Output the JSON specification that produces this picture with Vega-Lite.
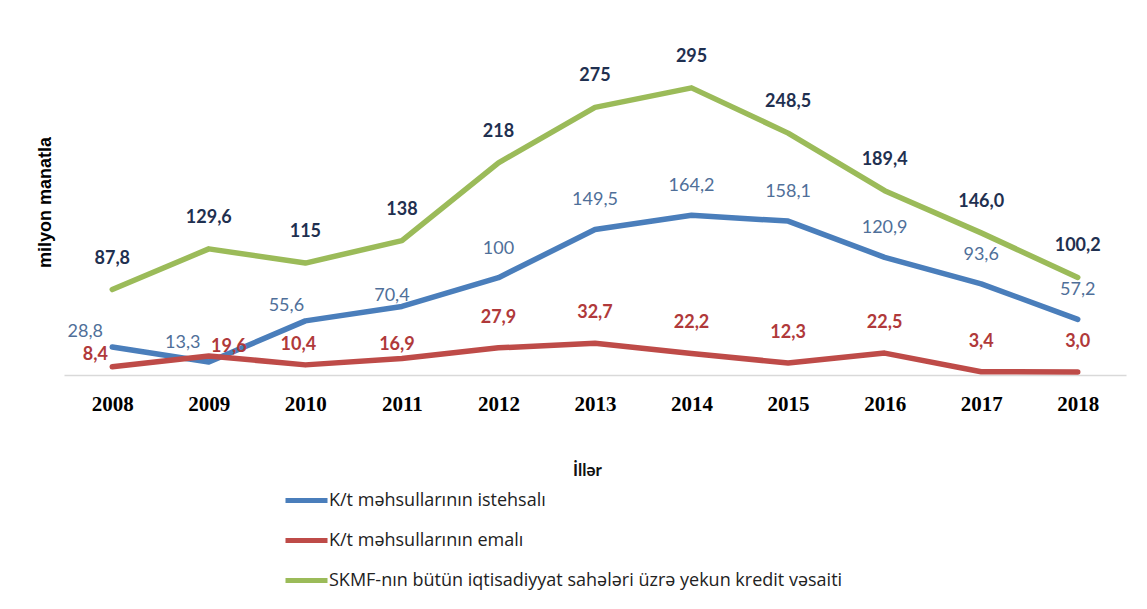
{
  "$schema": "https://vega.github.io/schema/vega-lite/v6.json",
  "autosize": {"type": "none"},
  "width": 1062,
  "height": 365,
  "padding": {"left": 64, "top": 10, "right": 21, "bottom": 234},
  "background": "white",
  "config": {"view": {"stroke": null}},
  "data": {
    "values": [
      {"year": "2008", "series": "K/t məhsullarının istehsalı", "value": 28.8, "label": "28,8"},
      {"year": "2009", "series": "K/t məhsullarının istehsalı", "value": 13.3, "label": "13,3"},
      {"year": "2010", "series": "K/t məhsullarının istehsalı", "value": 55.6, "label": "55,6"},
      {"year": "2011", "series": "K/t məhsullarının istehsalı", "value": 70.4, "label": "70,4"},
      {"year": "2012", "series": "K/t məhsullarının istehsalı", "value": 100, "label": "100"},
      {"year": "2013", "series": "K/t məhsullarının istehsalı", "value": 149.5, "label": "149,5"},
      {"year": "2014", "series": "K/t məhsullarının istehsalı", "value": 164.2, "label": "164,2"},
      {"year": "2015", "series": "K/t məhsullarının istehsalı", "value": 158.1, "label": "158,1"},
      {"year": "2016", "series": "K/t məhsullarının istehsalı", "value": 120.9, "label": "120,9"},
      {"year": "2017", "series": "K/t məhsullarının istehsalı", "value": 93.6, "label": "93,6"},
      {"year": "2018", "series": "K/t məhsullarının istehsalı", "value": 57.2, "label": "57,2"},
      {"year": "2008", "series": "K/t məhsullarının emalı", "value": 8.4, "label": "8,4"},
      {"year": "2009", "series": "K/t məhsullarının emalı", "value": 19.6, "label": "19,6"},
      {"year": "2010", "series": "K/t məhsullarının emalı", "value": 10.4, "label": "10,4"},
      {"year": "2011", "series": "K/t məhsullarının emalı", "value": 16.9, "label": "16,9"},
      {"year": "2012", "series": "K/t məhsullarının emalı", "value": 27.9, "label": "27,9"},
      {"year": "2013", "series": "K/t məhsullarının emalı", "value": 32.7, "label": "32,7"},
      {"year": "2014", "series": "K/t məhsullarının emalı", "value": 22.2, "label": "22,2"},
      {"year": "2015", "series": "K/t məhsullarının emalı", "value": 12.3, "label": "12,3"},
      {"year": "2016", "series": "K/t məhsullarının emalı", "value": 22.5, "label": "22,5"},
      {"year": "2017", "series": "K/t məhsullarının emalı", "value": 3.4, "label": "3,4"},
      {"year": "2018", "series": "K/t məhsullarının emalı", "value": 3.0, "label": "3,0"},
      {"year": "2008", "series": "SKMF-nın bütün iqtisadiyyat sahələri üzrə yekun kredit vəsaiti", "value": 87.8, "label": "87,8"},
      {"year": "2009", "series": "SKMF-nın bütün iqtisadiyyat sahələri üzrə yekun kredit vəsaiti", "value": 129.6, "label": "129,6"},
      {"year": "2010", "series": "SKMF-nın bütün iqtisadiyyat sahələri üzrə yekun kredit vəsaiti", "value": 115, "label": "115"},
      {"year": "2011", "series": "SKMF-nın bütün iqtisadiyyat sahələri üzrə yekun kredit vəsaiti", "value": 138, "label": "138"},
      {"year": "2012", "series": "SKMF-nın bütün iqtisadiyyat sahələri üzrə yekun kredit vəsaiti", "value": 218, "label": "218"},
      {"year": "2013", "series": "SKMF-nın bütün iqtisadiyyat sahələri üzrə yekun kredit vəsaiti", "value": 275, "label": "275"},
      {"year": "2014", "series": "SKMF-nın bütün iqtisadiyyat sahələri üzrə yekun kredit vəsaiti", "value": 295, "label": "295"},
      {"year": "2015", "series": "SKMF-nın bütün iqtisadiyyat sahələri üzrə yekun kredit vəsaiti", "value": 248.5, "label": "248,5"},
      {"year": "2016", "series": "SKMF-nın bütün iqtisadiyyat sahələri üzrə yekun kredit vəsaiti", "value": 189.4, "label": "189,4"},
      {"year": "2017", "series": "SKMF-nın bütün iqtisadiyyat sahələri üzrə yekun kredit vəsaiti", "value": 146.0, "label": "146,0"},
      {"year": "2018", "series": "SKMF-nın bütün iqtisadiyyat sahələri üzrə yekun kredit vəsaiti", "value": 100.2, "label": "100,2"}
    ]
  },
  "encoding": {
    "x": {
      "field": "year", "type": "ordinal",
      "scale": {"type": "point", "padding": 0.5},
      "axis": {
        "title": "İllər", "titleFont": "Lato", "titleFontSize": 17, "titleFontWeight": "bold", "titleColor": "#111",
        "titleX": 523, "titleY": 95, "titleBaseline": "middle", "titleAlign": "center",
        "labelAngle": 0, "labelFont": "Liberation Serif", "labelFontSize": 21, "labelFontWeight": "bold", "labelColor": "#000",
        "labelPadding": 18, "labelBaseline": "top",
        "ticks": false, "domainColor": "#d9d9d9", "domainWidth": 1.5, "grid": false
      }
    },
    "y": {
      "field": "value", "type": "quantitative",
      "scale": {"domain": [0, 375]},
      "axis": {
        "title": "milyon manatla", "titleFont": "Liberation Sans", "titleFontSize": 18, "titleFontWeight": "bold", "titleColor": "#000",
        "titleAngle": -90, "titleX": -19, "titleY": 192, "titleAlign": "center", "titleBaseline": "middle",
        "labels": false, "ticks": false, "domain": false, "grid": false
      }
    }
  },
  "layer": [
    {
      "mark": {"type": "line", "strokeWidth": 5.5, "strokeCap": "round", "strokeJoin": "round"},
      "encoding": {
        "color": {
          "field": "series", "type": "nominal",
          "sort": ["K/t məhsullarının istehsalı", "K/t məhsullarının emalı", "SKMF-nın bütün iqtisadiyyat sahələri üzrə yekun kredit vəsaiti"],
          "scale": {
            "domain": ["K/t məhsullarının istehsalı", "K/t məhsullarının emalı", "SKMF-nın bütün iqtisadiyyat sahələri üzrə yekun kredit vəsaiti"],
            "range": ["#4a7ebb", "#be4b48", "#9bbb59"]
          },
          "legend": {
            "title": null, "orient": "none", "legendX": 219, "legendY": 467, "direction": "vertical",
            "symbolType": "stroke", "symbolStrokeWidth": 5, "symbolSize": 1764,
            "labelFont": "Open Sans", "labelFontSize": 18, "labelColor": "#222", "labelOffset": -1, "rowPadding": 6, "labelLimit": 800
          }
        }
      }
    },
    {
      "transform": [{"filter": "datum.series === 'K/t məhsullarının istehsalı' && toNumber(datum.year) >= 2012"}],
      "mark": {"type": "text", "dy": -29, "font": "Lato", "fontSize": 18, "color": "#4f6f99"},
      "encoding": {"text": {"field": "label"}}
    },
    {
      "transform": [{"filter": "datum.series === 'K/t məhsullarının istehsalı' && datum.year === '2008'"}],
      "mark": {"type": "text", "dx": -27, "dy": -15, "font": "Lato", "fontSize": 18, "color": "#4f6f99"},
      "encoding": {"text": {"field": "label"}}
    },
    {
      "transform": [{"filter": "datum.series === 'K/t məhsullarının istehsalı' && datum.year === '2009'"}],
      "mark": {"type": "text", "dx": -26, "dy": -19, "font": "Lato", "fontSize": 18, "color": "#4f6f99"},
      "encoding": {"text": {"field": "label"}}
    },
    {
      "transform": [{"filter": "datum.series === 'K/t məhsullarının istehsalı' && datum.year === '2010'"}],
      "mark": {"type": "text", "dx": -19, "dy": -15, "font": "Lato", "fontSize": 18, "color": "#4f6f99"},
      "encoding": {"text": {"field": "label"}}
    },
    {
      "transform": [{"filter": "datum.series === 'K/t məhsullarının istehsalı' && datum.year === '2011'"}],
      "mark": {"type": "text", "dx": -10, "dy": -10, "font": "Lato", "fontSize": 18, "color": "#4f6f99"},
      "encoding": {"text": {"field": "label"}}
    },
    {
      "transform": [{"filter": "datum.series === 'K/t məhsullarının emalı' && toNumber(datum.year) >= 2012"}],
      "mark": {"type": "text", "dy": -30, "font": "Lato", "fontSize": 18, "fontWeight": "bold", "color": "#b0393a"},
      "encoding": {"text": {"field": "label"}}
    },
    {
      "transform": [{"filter": "datum.series === 'K/t məhsullarının emalı' && datum.year === '2008'"}],
      "mark": {"type": "text", "dx": -17, "dy": -12, "font": "Lato", "fontSize": 18, "fontWeight": "bold", "color": "#b0393a"},
      "encoding": {"text": {"field": "label"}}
    },
    {
      "transform": [{"filter": "datum.series === 'K/t məhsullarının emalı' && datum.year === '2009'"}],
      "mark": {"type": "text", "dx": 20, "dy": -9, "font": "Lato", "fontSize": 18, "fontWeight": "bold", "color": "#b0393a"},
      "encoding": {"text": {"field": "label"}}
    },
    {
      "transform": [{"filter": "datum.series === 'K/t məhsullarının emalı' && datum.year === '2010'"}],
      "mark": {"type": "text", "dx": -7, "dy": -20, "font": "Lato", "fontSize": 18, "fontWeight": "bold", "color": "#b0393a"},
      "encoding": {"text": {"field": "label"}}
    },
    {
      "transform": [{"filter": "datum.series === 'K/t məhsullarının emalı' && datum.year === '2011'"}],
      "mark": {"type": "text", "dx": -5, "dy": -14, "font": "Lato", "fontSize": 18, "fontWeight": "bold", "color": "#b0393a"},
      "encoding": {"text": {"field": "label"}}
    },
    {
      "transform": [{"filter": "datum.series === 'SKMF-nın bütün iqtisadiyyat sahələri üzrə yekun kredit vəsaiti'"}],
      "mark": {"type": "text", "dy": -31, "font": "Lato", "fontSize": 18, "fontWeight": "bold", "color": "#1f3050"},
      "encoding": {"text": {"field": "label"}}
    }
  ]
}
